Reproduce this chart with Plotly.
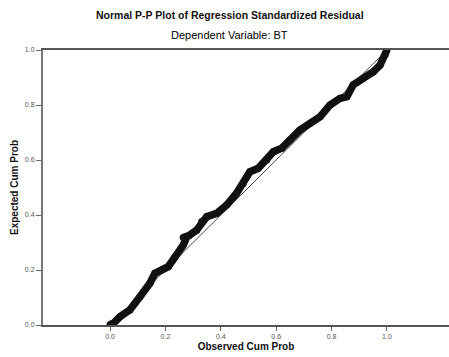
import plotly.graph_objects as go

# Traced P-P curve: observed vs expected cumulative probability
observed_cum_prob = [0.000, 0.012, 0.036, 0.072, 0.108, 0.144, 0.162, 0.187, 0.210,
                     0.235, 0.265, 0.277, 0.264, 0.285, 0.313, 0.331, 0.349, 0.385,
                     0.421, 0.457, 0.481, 0.505, 0.535, 0.566, 0.590, 0.620, 0.650,
                     0.686, 0.722, 0.758, 0.794, 0.830, 0.855, 0.878, 0.914, 0.951,
                     0.975, 0.993, 1.000]
expected_cum_prob = [0.002, 0.006, 0.030, 0.055, 0.103, 0.152, 0.188, 0.200, 0.212,
                     0.248, 0.291, 0.321, 0.318, 0.325, 0.345, 0.376, 0.394, 0.406,
                     0.436, 0.479, 0.515, 0.557, 0.570, 0.600, 0.630, 0.643, 0.673,
                     0.709, 0.733, 0.757, 0.800, 0.824, 0.830, 0.873, 0.897, 0.921,
                     0.945, 0.982, 1.000]

# Reference diagonal
diag = [0.0, 1.0]

tick_vals = [0.0, 0.2, 0.4, 0.6, 0.8, 1.0]
tick_text = ["0.0", "0.2", "0.4", "0.6", "0.8", "1.0"]

font_family = "Liberation Sans, Arial, sans-serif"

fig = go.Figure()
fig.add_trace(go.Scatter(x=diag, y=diag, mode="lines",
                         line=dict(color="#444444", width=1), hoverinfo="skip"))
fig.add_trace(go.Scatter(x=observed_cum_prob, y=expected_cum_prob, mode="lines+markers",
                         line=dict(color="#111111", width=7.5),
                         marker=dict(color="#111111", size=7)))

fig.update_layout(
    width=449, height=357,
    margin=dict(l=43, r=0, t=50, b=32),
    paper_bgcolor="white", plot_bgcolor="white",
    showlegend=False,
    font=dict(family=font_family, color="#222222"),
    xaxis=dict(range=[-0.242, 1.224], showgrid=False, zeroline=False,
               showline=True, linecolor="#555555", linewidth=2, mirror=True,
               ticks="outside", ticklen=4, tickcolor="#666666",
               tickvals=tick_vals, ticktext=tick_text,
               tickfont=dict(size=7, color="#555555"),
               title=dict(text="<b>Observed Cum Prob</b>", font=dict(size=10, color="#111111"),
                          standoff=4)),
    yaxis=dict(range=[0, 1.0], showgrid=False, zeroline=False,
               showline=True, linecolor="#777777", linewidth=2,
               ticks="outside", ticklen=5, tickcolor="#666666",
               tickvals=tick_vals, ticktext=tick_text,
               tickfont=dict(size=7, color="#555555"),
               title=dict(text="<b>Expected Cum Prob</b>", font=dict(size=10, color="#111111"),
                          standoff=4)),
    annotations=[
        dict(text="<b>Normal P-P Plot of Regression Standardized Residual</b>",
             xref="paper", yref="paper", x=0.46, y=1.127, yanchor="middle",
             showarrow=False, font=dict(size=10.5, color="#111111")),
        dict(text="Dependent Variable: BT",
             xref="paper", yref="paper", x=0.46, y=1.055, yanchor="middle",
             showarrow=False, font=dict(size=11, color="#000000")),
    ],
)

fig.write_html("out.html")
